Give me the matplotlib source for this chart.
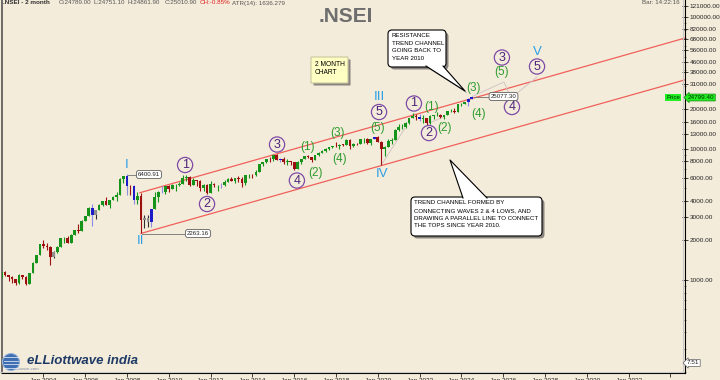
import numpy as np
import pandas as pd
import matplotlib
matplotlib.use('Agg')
import matplotlib.pyplot as plt
import matplotlib.transforms as mtransforms
from matplotlib.patches import FancyBboxPatch, Polygon, Circle
from matplotlib.ticker import FixedLocator, LogLocator, NullFormatter
from matplotlib.lines import Line2D

plt.rcParams['font.family'] = ['Liberation Sans', 'DejaVu Sans']

# 2-month bars of .NSEI, Jan-Feb 2002 .. Jul-Aug 2024
opens = [1059, 1142, 1084, 1057, 1011, 951,
         1094, 1063, 934, 1134, 1356, 1555,
         1880, 1800, 1796, 1505, 1632, 1786,
         2080, 2103, 1902, 2221, 2385, 2371,
         2837, 3074, 3558, 3128, 3413, 3744,
         3966, 3745, 4087, 4318, 4464, 5900,
         6139, 5224, 5165, 4040, 4360, 2885,
         2959, 2763, 3474, 4291, 4662, 4712,
         5201, 4922, 5278, 5313, 5402, 6018,
         6135, 5333, 5750, 5647, 5001, 5326,
         4624, 5385, 5248, 5279, 5259, 5620,
         5905, 5693, 5930, 5842, 5471, 6299,
         6304, 6277, 6696, 7611, 7954, 8322,
         8283, 8901, 8181, 8368, 7971, 8065,
         7946, 6987, 7850, 8288, 8786, 8625,
         8186, 8880, 9304, 9521, 9918, 10335,
         10531, 10493, 10739, 10714, 11681, 10387,
         10863, 10793, 11748, 11789, 11023, 11877,
         12168, 11201, 9859, 10302, 11388, 11642,
         13982, 14529, 14631, 15722, 17132, 17671,
         17354, 16794, 17103, 15780, 17759, 18012,
         18105, 17304, 18065, 19189, 19254, 19080,
         21731, 21983, 22605, 24011]
highs = [1160, 1180, 1090, 1075, 1020, 1110,
         1100, 1070, 1140, 1360, 1560, 1890,
         2015, 1920, 1830, 1660, 1810, 2090,
         2120, 2180, 2230, 2420, 2670, 2850,
         3080, 3600, 3775, 3430, 3780, 4030,
         4250, 4100, 4330, 4650, 5980, 6185,
         6400.91, 5300, 5300, 4650, 4560, 3150,
         3147, 3500, 4690, 4730, 5180, 5220,
         5310, 5400, 5370, 5550, 6340, 6338,
         6180, 5945, 5775, 5740, 5400, 5400,
         5630, 5500, 5300, 5450, 5815, 5965,
         6110, 6000, 6230, 6090, 6340, 6415,
         6360, 6870, 7700, 7970, 8330, 8630,
         8996, 9119, 8490, 8655, 8336, 8116,
         7972, 7992, 8308, 8819, 8968, 8669,
         8982, 9367, 9709, 10138, 10384, 10552,
         11172, 10759, 10929, 11760, 11752, 10985,
         10987, 11856, 12103, 11981, 11945, 12294,
         12430, 11433, 10553, 11794, 12025, 14025,
         15432, 15336, 15915, 17153, 18604, 18210,
         18350, 18115, 17132, 17992, 18096, 18888,
         18251, 18089, 19201, 19992, 20222, 21801,
         22297, 22783, 24175, 25077.30]
lows = [1040, 1070, 980, 955, 920, 940,
        1020, 920, 930, 1130, 1340, 1540,
        1750, 1690, 1290, 1480, 1620, 1780,
        1900, 1900, 1900, 2200, 2300, 2370,
        2830, 3060, 2600, 2920, 3400, 3650,
        3700, 3550, 4050, 4000, 4460, 5500,
        4450, 4470, 3790, 3790, 2263.16, 2500,
        2540, 2540, 3470, 3920, 4600, 4540,
        4675, 4920, 4790, 5230, 5400, 5690,
        5180, 5320, 5200, 4720, 4730, 4530,
        4590, 5140, 4770, 5030, 5200, 5550,
        5660, 5480, 5570, 5120, 5320, 5970,
        5940, 6210, 6640, 7420, 7720, 7960,
        8065, 8145, 7940, 7667, 7540, 7551,
        6825, 6980, 7680, 8280, 8555, 7893,
        8133, 8860, 9269, 9508, 9688, 10095,
        10276, 9951, 10418, 10604, 10005, 10333,
        10585, 10790, 11108, 10782, 10670, 11802,
        11175, 7511, 8806, 10299, 10790, 11557,
        13596, 14151, 14417, 15513, 17055, 16410,
        16203, 15671, 15183, 15511, 16748, 17774,
        17255, 16828, 18042, 19100, 18837, 19058,
        21137, 21710, 21281, 23894]
closes = [1142, 1084, 1057, 1011, 951, 1094,
          1063, 934, 1134, 1356, 1555, 1879,
          1800, 1796, 1505, 1632, 1786, 2080,
          2103, 1902, 2221, 2385, 2371, 2837,
          3074, 3558, 3128, 3413, 3744, 3966,
          3745, 4087, 4318, 4464, 5900, 6139,
          5224, 5165, 4040, 4360, 2885, 2959,
          2763, 3474, 4291, 4662, 4712, 5201,
          4922, 5278, 5313, 5402, 6018, 6135,
          5333, 5750, 5647, 5001, 5326, 4624,
          5385, 5248, 5279, 5259, 5620, 5905,
          5693, 5930, 5842, 5471, 6299, 6304,
          6277, 6696, 7611, 7954, 8322, 8283,
          8901, 8181, 8368, 7971, 8065, 7946,
          6987, 7850, 8288, 8786, 8625, 8186,
          8880, 9304, 9521, 9918, 10335, 10531,
          10493, 10739, 10714, 11681, 10387, 10863,
          10793, 11748, 11789, 11023, 11877, 12168,
          11201, 9859, 10302, 11388, 11642, 13982,
          14529, 14631, 15722, 17132, 17671, 17354,
          16794, 17103, 15780, 17759, 18012, 18105,
          17304, 18065, 19189, 19254, 19080, 21731,
          21983, 22605, 24011, 24799.40]

blue_bars = ['2006-05', '2008-01', '2008-05', '2009-03', '2009-09', '2012-07',
             '2015-05', '2019-11', '2022-01', '2024-05', '2024-07']
gray_bars = ['2004-07', '2006-07', '2008-11', '2009-01']

# channel lines (year, price)
upper_line = ([2008.62, 2034.7], [4620, 69500])
lower_line = ([2008.67, 2034.7], [2263.16, 33400])
# faint wave guide lines
guide_lines = [([2020.17, 2021.3], [7511, 14300]),
               ([2022.45, 2023.14], [15590, 17480]),
               ([2024.55, 2026.04, 2026.37, 2027.62], [25077, 32200, 24300, 35100])]

circled = [('1', 2010.78, 7510), ('2', 2011.83, 3790), ('3', 2015.18, 10750),
           ('4', 2016.13, 5720), ('5', 2020.06, 19000), ('1', 2021.73, 22070),
           ('2', 2022.45, 13150), ('3', 2025.94, 49400), ('4', 2026.42, 20760),
           ('5', 2027.62, 42200)]
minor_waves = [('(1)', 2016.66, 10300), ('(2)', 2017.0, 6580), ('(3)', 2018.05, 13150),
               ('(4)', 2018.19, 8340), ('(5)', 2020.01, 14360), ('(1)', 2022.59, 20760),
               ('(2)', 2023.17, 14360), ('(3)', 2024.56, 29200), ('(4)', 2024.84, 18360),
               ('(5)', 2025.94, 38300)]
major_waves = [('I', 2008.0, 7500), ('II', 2008.67, 1980), ('III', 2020.06, 24700),
               ('IV', 2020.2, 6410), ('V', 2027.62, 54400)]

y_ticks = [121000, 100000, 82000, 68000, 56000, 46000, 38000, 31000, 20000, 16000,
           13000, 10000, 8000, 6000, 4000, 3000, 2000, 1000]
x_tick_years = list(range(2004, 2036, 2))

bg = '#f4ecda'
fig = plt.figure(figsize=(7.2, 3.8), dpi=100, facecolor=bg)
ax = fig.add_axes([2 / 720, 7 / 380, 683 / 720, 373 / 380], facecolor=bg)
px = mtransforms.Affine2D().scale(1 / 720, -1 / 380).translate(0, 1) + fig.transFigure

dates = pd.date_range('2002-01-01', periods=len(closes), freq='2MS')
years = np.array(dates.year + (dates.month - 1) / 12.0)
keys = dates.strftime('%Y-%m')

for x, o, h, l, c, k in zip(years, opens, highs, lows, closes, keys):
    if k in blue_bars:
        body, wick = '#1c1cc8', '#8c8ce0'
    elif k in gray_bars:
        body, wick = '#8e8e8e', '#303030'
    elif c >= o:
        body, wick = '#15931a', '#15931a'
    else:
        body, wick = '#9c1010', '#9c1010'
    ax.vlines(x, l, h, color=wick, lw=0.8, zorder=3)
    lo, hi = min(o, c), max(o, c)
    if hi / lo < 1.006:
        hi = lo * 1.006
    ax.bar(x, hi - lo, bottom=lo, width=0.13, color=body, lw=0, zorder=4)

ax.plot(*upper_line, color='#f0605a', lw=0.9, zorder=2)
ax.plot(*lower_line, color='#f0605a', lw=0.9, zorder=2)
for gx, gy in guide_lines:
    ax.plot(gx, gy, color='#d4c4c4', lw=0.7, zorder=2)

for t, x, y in circled:
    ax.scatter([x], [y], s=120, facecolors='none', edgecolors='#7d4aa5', lw=0.9, zorder=6)
    ax.text(x, y, t, color='#4b237a', fontsize=9, ha='center', va='center', zorder=7)
for t, x, y in minor_waves:
    ax.text(x, y, t, color='#2f9c2f', fontsize=8.5, ha='center', va='center', zorder=7)
for t, x, y in major_waves:
    ax.text(x, y, t, color='#2c9ee6', fontsize=9.5, ha='center', va='center', zorder=7)

ax.set_yscale('log')
ax.set_ylim(196, 135400)
ax.set_xlim(2002.02, 2034.7)

ax.yaxis.tick_right()
ax.yaxis.set_major_locator(FixedLocator(y_ticks))
ax.set_yticklabels(['%.2f' % v for v in y_ticks])
ax.yaxis.set_minor_locator(LogLocator(base=10, subs=np.arange(1.0, 10.0, 0.5), numticks=50))
ax.yaxis.set_minor_formatter(NullFormatter())
ax.tick_params(axis='y', which='major', direction='inout', length=4, width=0.6,
               labelsize=4.6, pad=1.5, colors='#222222')
ax.tick_params(axis='y', which='minor', direction='inout', length=2, width=0.4, colors='#222222')
ax.set_xticks(x_tick_years)
ax.set_xticklabels(['Jan %d' % y if y < 2034 else '' for y in x_tick_years])
ax.tick_params(axis='x', direction='out', length=3, width=0.6, labelsize=4.6, pad=0.8,
               colors='#222222')
ax.minorticks_on()
ax.xaxis.set_minor_locator(FixedLocator([]))
ax.spines['top'].set_visible(False)
ax.spines['left'].set_color('#555555')
ax.spines['left'].set_linewidth(1.2)
ax.spines['right'].set_linewidth(0.8)
ax.spines['bottom'].set_linewidth(0.8)
fig.add_artist(Line2D([0, 683], [372, 372], color='#c8c8c8', lw=0.8, transform=px))
fig.add_artist(Line2D([683, 683], [0, 372], color='#c8c8c8', lw=0.8, transform=px))

# header
hy = 1 - 3 / 380
fig.text(3 / 720, hy, '.NSEI - 2 month', fontsize=4.6, weight='bold', color='#333333', va='center')
for hx, txt in [(59, 'O:24789.00'), (93, 'L:24751.10'), (128, 'H:24861.90'), (165, 'C:25010.90'),
                (232, 'ATR(14): 1636.279'), (642, 'Bar: 14:22:16')]:
    fig.text(hx / 720, hy, txt, fontsize=4.5, color='#555555', va='center')
fig.text(200 / 720, hy, 'CH:-0.85%', fontsize=4.5, color='#e02020', va='center')
fig.text(346 / 720, 1 - 16 / 380, '.NSEI', fontsize=15, weight='bold', color='#6e6e6e',
         ha='center', va='center')


def box(x0, y0, x1, y1, face, edge, r=4, z=20):
    fig.add_artist(FancyBboxPatch((x0 + 2.5, y0 + 2.5), x1 - x0, y1 - y0,
                                  boxstyle='round,pad=0,rounding_size=%g' % r,
                                  fc='#8a8580', ec='none', transform=px, zorder=z))
    fig.add_artist(FancyBboxPatch((x0, y0), x1 - x0, y1 - y0,
                                  boxstyle='round,pad=0,rounding_size=%g' % r,
                                  fc=face, ec=edge, lw=0.8, transform=px, zorder=z + 1))


def tail(p0, tip, p1, z=22):
    shift = mtransforms.ScaledTranslation(2.5 / 100, -2.5 / 100, fig.dpi_scale_trans)
    fig.add_artist(Polygon([p0, tip, p1], closed=True, fc='#8a8580', ec='none',
                           transform=px + shift, zorder=z - 2.5))
    fig.add_artist(Polygon([p0, tip, p1], closed=True, fc='white', ec='none', transform=px, zorder=z))
    fig.add_artist(Line2D([p0[0], tip[0], p1[0]], [p0[1], tip[1], p1[1]], color='black', lw=0.8,
                          transform=px, zorder=z + 0.5))


# resistance callout
box(388, 30, 446, 67, 'white', 'black')
tail((426, 66), (465, 91), (443, 66))
for i, line in enumerate(['RESISTANCE', 'TREND CHANNEL', 'GOING BACK TO', 'YEAR 2010']):
    fig.text(392 / 720, 1 - (35.5 + 7.6 * i) / 380, line, fontsize=4.4, color='black',
             va='center', zorder=30)

# trend channel callout
box(411, 197, 542, 236, 'white', 'black')
tail((463, 198), (450, 160), (487, 198))
for i, line in enumerate(['TREND CHANNEL FORMED BY', 'CONNECTING WAVES 2 & 4 LOWS, AND',
                          'DRAWING A PARALLEL LINE TO CONNECT', 'THE TOPS SINCE YEAR 2010.']):
    fig.text(414 / 720, 1 - (203 + 7.5 * i) / 380, line, fontsize=4.4, color='black',
             va='center', zorder=30)

# 2 month chart note
box(311, 57, 348, 83, '#ffffc4', '#c8c8a0', r=0.5)
fig.text(315 / 720, 1 - 64.5 / 380, '2 MONTH', fontsize=4.8, color='black', va='center', zorder=30)
fig.text(315 / 720, 1 - 73 / 380, 'CHART', fontsize=4.8, color='black', va='center', zorder=30)

# value labels
for txt, cx, cy, lx, ly in [('6400.91', 149, 174.5, 128, 174.5), ('2263.16', 198, 233.5, 142, 233.5),
                            ('25077.30', 503.5, 96.5, 474, 96.5)]:
    fig.add_artist(Line2D([lx, cx - 13], [ly, cy], color='#707070', lw=0.6, transform=px, zorder=9))
    fig.text(cx / 720, 1 - cy / 380, txt, fontsize=4.4, color='#222222', ha='center', va='center',
             zorder=10, bbox=dict(boxstyle='round,pad=0.25,rounding_size=0.4', fc='white', ec='#606060', lw=0.6))

fig.text(673 / 720, 1 - 97.5 / 380, 'Price', fontsize=4.4, color='#003300', ha='center', va='center',
         bbox=dict(boxstyle='square,pad=0.15', fc='#22ee22', ec='none'))
fig.text(701 / 720, 1 - 97.5 / 380, '24799.40', fontsize=4.6, color='#003300', ha='center', va='center',
         zorder=12, bbox=dict(boxstyle='larrow,pad=0.15', fc='#22ee22', ec='#118811', lw=0.5))
fig.text(693 / 720, 1 - 363 / 380, '7.51', fontsize=4.6, color='#222222', ha='center', va='center',
         zorder=12, bbox=dict(boxstyle='larrow,pad=0.15', fc='white', ec='#606060', lw=0.5))

# logo
fig.add_artist(Circle((11, 362), 8.5, fc='#3d6fb2', ec='#9ab4d8', lw=0.8, transform=px, zorder=12))
for yy in [357, 360.5, 364, 367.5]:
    fig.add_artist(Line2D([4, 18], [yy, yy], color='white', lw=0.6, alpha=0.8, transform=px, zorder=13))
fig.text(10 / 720, 1 - 369 / 380, 'elliottwave.com', fontsize=3.2, color='#8090a8', va='center', zorder=11)
fig.text(27 / 720, 1 - 361.5 / 380, 'eLLiottwave india', fontsize=9.5, weight='bold', style='italic',
         color='#1e3a66', va='center', zorder=12)

fig.savefig('out.png', dpi=100, facecolor=bg)
